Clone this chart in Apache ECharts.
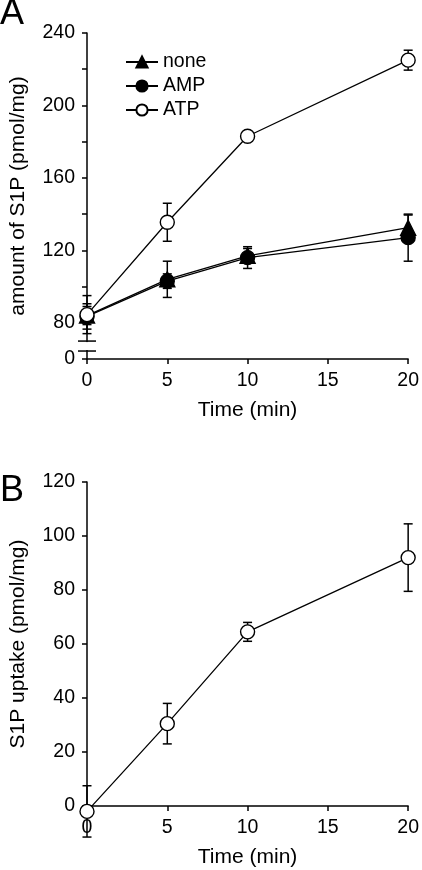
<!DOCTYPE html>
<html><head><meta charset="utf-8">
<script src="https://cdn.jsdelivr.net/npm/echarts@6/dist/echarts.min.js"></script>
<style>html,body{margin:0;padding:0;background:#fff}#c{width:422px;height:870px}</style>
</head><body><div id="c"></div>
<script>
// ---- data ----
const times = [0, 5, 10, 20];
const seriesNames = ['none', 'AMP', 'ATP'];
const noneVals = [84, 104, 117, 132.5];
const noneErr = [5, 10, 4, 7];
const ampVals = [83.5, 103, 116, 127];
const ampErr = [7, 4, 6, 13];
const atpVals = [84.5, 135.5, 183, 225];
const atpErr = [10.5, 10.5, 1.5, 5.5];
const uptakeVals = [-2, 30.5, 64.5, 92];
const uptakeErr = [9.5, 7.5, 3.5, 12.5];
const yBreakLow = 60;          // bottom of panel A axis, shown as "0"
const yBreakMarks = [69.9, 64.4];

const FONT = 'Liberation Sans, Arial, sans-serif';
const chart = echarts.init(document.getElementById('c'), null, {renderer: 'canvas'});

function errSeries(vals, errs, gi) {
  return {
    type: 'custom', xAxisIndex: gi, yAxisIndex: gi, z: 1, clip: false, silent: true,
    data: times.map((t, i) => [t, vals[i] - errs[i], vals[i] + errs[i]]),
    encode: {x: 0, y: [1, 2]},
    renderItem(params, api) {
      const x = api.value(0);
      const lo = api.coord([x, api.value(1)]);
      const hi = api.coord([x, api.value(2)]);
      const hw = 4.5;
      const style = {stroke: '#000', lineWidth: 1.5, fill: null};
      return {type: 'group', children: [
        {type: 'line', shape: {x1: lo[0], y1: lo[1], x2: hi[0], y2: hi[1]}, style},
        {type: 'line', shape: {x1: lo[0] - hw, y1: lo[1], x2: lo[0] + hw, y2: lo[1]}, style},
        {type: 'line', shape: {x1: hi[0] - hw, y1: hi[1], x2: hi[0] + hw, y2: hi[1]}, style}
      ]};
    }
  };
}
function lineSeries(name, vals, gi, symbol, fill) {
  return {
    name, type: 'line', xAxisIndex: gi, yAxisIndex: gi, z: 3, clip: false,
    data: times.map((t, i) => [t, vals[i]]),
    symbol, symbolSize: symbol === 'triangle' ? 15 : 14, showSymbol: true,
    lineStyle: {color: '#000', width: 1.3},
    itemStyle: {color: fill, borderColor: '#000', borderWidth: 1.4},
    emphasis: {disabled: true}
  };
}
const axisCommon = {
  axisLine: {show: true, lineStyle: {color: '#000', width: 1.5}},
  axisTick: {show: true, inside: false, length: 5, lineStyle: {color: '#000', width: 1.5}},
  splitLine: {show: false},
  axisLabel: {color: '#000', fontSize: 19.5, fontFamily: FONT, margin: 12},
  nameTextStyle: {color: '#000', fontSize: 21, fontFamily: FONT}
};
function xAx(gi) {
  return Object.assign({}, axisCommon, {
    type: 'value', gridIndex: gi, min: 0, max: 20, interval: 5,
    name: 'Time (min)', nameLocation: 'middle', nameGap: 41,
    axisLabel: Object.assign({}, axisCommon.axisLabel, {margin: 12})
  });
}
const option = {
  backgroundColor: '#fff',
  animation: false,
  title: [
    {text: 'A', left: 0, top: -4, padding: 0, textStyle: {fontSize: 36, fontWeight: 'normal', color: '#000', fontFamily: FONT}},
    {text: 'B', left: 0, top: 473, padding: 0, textStyle: {fontSize: 36, fontWeight: 'normal', color: '#000', fontFamily: FONT}}
  ],
  legend: {
    data: seriesNames, orient: 'vertical', left: 125, top: 52,
    itemWidth: 32, itemHeight: 14, itemGap: 4, padding: 0,
    textStyle: {color: '#000', fontSize: 19.5, fontFamily: FONT},
    selectedMode: false
  },
  grid: [
    {left: 83, top: 33, width: 329, height: 326},
    {left: 83, top: 482, width: 329, height: 324}
  ],
  xAxis: [xAx(0), xAx(1)],
  yAxis: [
    Object.assign({}, axisCommon, {
      type: 'value', gridIndex: 0, min: yBreakLow, max: 240, interval: 20,
      name: 'amount of S1P (pmol/mg)', nameLocation: 'middle', nameGap: 58,
      axisLabel: Object.assign({}, axisCommon.axisLabel, {
        formatter: v => v === yBreakLow ? '0' : (v % 40 === 0 ? String(v) : '')
      })
    }),
    Object.assign({}, axisCommon, {
      type: 'value', gridIndex: 1, min: 0, max: 120, interval: 20,
      name: 'S1P uptake (pmol/mg)', nameLocation: 'middle', nameGap: 58
    })
  ],
  series: [
    errSeries(noneVals, noneErr, 0),
    errSeries(ampVals, ampErr, 0),
    errSeries(atpVals, atpErr, 0),
    lineSeries('none', noneVals, 0, 'triangle', '#000'),
    lineSeries('AMP', ampVals, 0, 'circle', '#000'),
    lineSeries('ATP', atpVals, 0, 'circle', '#fff'),
    errSeries(uptakeVals, uptakeErr, 1),
    lineSeries('uptake', uptakeVals, 1, 'circle', '#fff')
  ]
};
chart.setOption(option);

// axis break marks on panel A
const ax = chart.convertToPixel({xAxisIndex: 0}, 0);
const yTop = chart.convertToPixel({yAxisIndex: 0}, yBreakMarks[0]);
const yBot = chart.convertToPixel({yAxisIndex: 0}, yBreakMarks[1]);
chart.setOption({graphic: [
  {type: 'rect', z: 10, shape: {x: ax - 3, y: yTop + 1, width: 6, height: yBot - yTop - 2}, style: {fill: '#fff'}},
  {type: 'line', z: 11, shape: {x1: ax - 9, y1: yTop, x2: ax + 9, y2: yTop}, style: {stroke: '#000', lineWidth: 1.5}},
  {type: 'line', z: 11, shape: {x1: ax - 9, y1: yBot, x2: ax + 9, y2: yBot}, style: {stroke: '#000', lineWidth: 1.5}}
]});
</script>
</body></html>
